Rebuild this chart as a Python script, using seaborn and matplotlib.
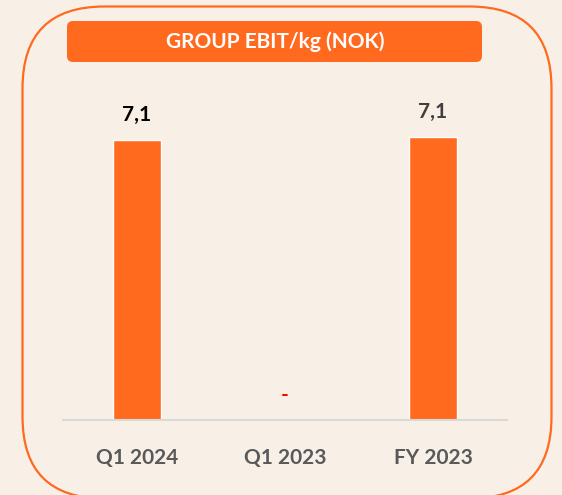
import matplotlib
matplotlib.use("Agg")
import matplotlib.pyplot as plt
import seaborn as sns
from matplotlib.patches import FancyBboxPatch

# data
categories = ["Q1 2024", "Q1 2023", "FY 2023"]
values = [7.07, 0.0, 7.14]
value_labels = ["7,1", "-", "7,1"]
label_colors = ["#000000", "#FF0000", "#404040"]
title = "GROUP EBIT/kg (NOK)"

orange = "#FF6A1F"
bg = "#F8F0E6"
W, H = 562, 495

sns.set_theme(style="white")
plt.rcParams["font.family"] = ["Lato", "DejaVu Sans"]

fig = plt.figure(figsize=(W / 100, H / 100), dpi=100)
fig.patch.set_facecolor(bg)

# background layer in pixel coords (y up) for the rounded frame and title box
bg_ax = fig.add_axes([0, 0, 1, 1], zorder=-1)
bg_ax.set_xlim(0, W)
bg_ax.set_ylim(0, H)
bg_ax.axis("off")
bg_ax.add_patch(FancyBboxPatch((22.5, H - 498.5), 529, 492,
                               boxstyle="round,pad=0,rounding_size=82",
                               fc="none", ec=orange, lw=1.6))
bg_ax.add_patch(FancyBboxPatch((67, H - 62), 415, 41,
                               boxstyle="round,pad=0,rounding_size=6",
                               fc=orange, ec="none"))
bg_ax.text(275, H - 42, title, color="white", fontsize=15, fontweight="bold",
           ha="center", va="center")

# bar chart
ax = fig.add_axes([63 / W, 1 - 420 / H, 444 / W, 330 / H])
ax.set_facecolor("none")
sns.barplot(x=categories, y=values, ax=ax, color=orange, saturation=1, width=0.32)
ax.set_xlim(-0.5, 2.5)
ax.set_ylim(0, 8.33)

for i, (v, lab, c) in enumerate(zip(values, value_labels, label_colors)):
    ax.annotate(lab, (i, v), xytext=(0, 25), textcoords="offset pixels",
                ha="center", va="center", fontsize=15, fontweight="bold", color=c)

sns.despine(ax=ax, left=True)
ax.spines["bottom"].set_color("#D9D9D9")
ax.spines["bottom"].set_linewidth(1.5)
ax.set_yticks([])
ax.set_ylabel("")
ax.tick_params(axis="x", length=0, pad=20)
for t in ax.get_xticklabels():
    t.set_fontsize(15)
    t.set_fontweight("bold")
    t.set_color("#595959")

fig.savefig("out.png", dpi=100, facecolor=bg)
